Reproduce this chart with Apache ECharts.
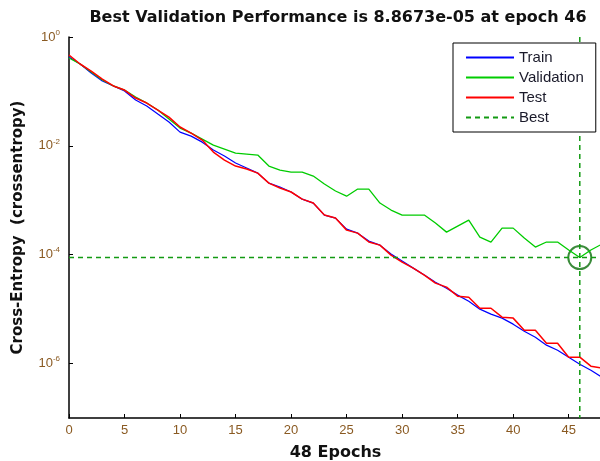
<!DOCTYPE html>
<html>
<head>
<meta charset="utf-8">
<script src="https://cdn.jsdelivr.net/npm/echarts@6/dist/echarts.min.js"></script>
<style>
html, body { margin: 0; padding: 0; background: #fff; }
#perfChart { width: 600px; height: 461px; }
</style>
</head>
<body>
<div id="perfChart"></div>
<script>
// cross-entropy per epoch (0..48)
var epochs = [];
for (var i = 0; i <= 48; i++) epochs.push(i);

var trainPerf = [0.429, 0.319, 0.218, 0.155, 0.126, 0.102, 0.0695, 0.0539, 0.0384, 0.0274,
    0.0179, 0.0151, 0.0117, 0.00837, 0.00649, 0.00483, 0.00391, 0.00316, 0.00207, 0.00175,
    0.00142, 0.00105, 0.000889, 0.000535, 0.000471, 0.000296, 0.000249, 0.000178, 0.000150, 0.000103,
    7.63e-5, 5.67e-5, 4.22e-5, 3.13e-5, 2.43e-5, 1.81e-5, 1.40e-5, 1.00e-5, 8.09e-6, 6.84e-6,
    5.30e-6, 3.94e-6, 3.05e-6, 2.18e-6, 1.76e-6, 1.31e-6, 9.75e-7, 7.56e-7, 5.62e-7];

var valPerf = [0.411, 0.319, 0.227, 0.162, 0.126, 0.106, 0.0789, 0.0612, 0.0455, 0.0311,
    0.0212, 0.0172, 0.0133, 0.0103, 0.00873, 0.00738, 0.00707, 0.00677, 0.00425, 0.00359,
    0.00330, 0.00330, 0.00279, 0.00199, 0.00148, 0.00119, 0.00161, 0.00161, 0.000889, 0.000661,
    0.000535, 0.000535, 0.000535, 0.000381, 0.000260, 0.000336, 0.000433, 0.000211, 0.000171, 0.000308,
    0.000308, 0.000202, 0.000138, 0.000171, 0.000171, 0.000122, 8.8673e-5, 0.000122, 0.000157];

var testPerf = [0.467, 0.319, 0.237, 0.169, 0.126, 0.106, 0.0756, 0.0612, 0.0455, 0.0338,
    0.0222, 0.0172, 0.0128, 0.00769, 0.00548, 0.00425, 0.00375, 0.00316, 0.00207, 0.00168,
    0.00142, 0.00105, 0.000889, 0.000535, 0.000471, 0.000283, 0.000249, 0.000171, 0.000150, 9.84e-5,
    7.31e-5, 5.67e-5, 4.22e-5, 3.01e-5, 2.54e-5, 1.73e-5, 1.66e-5, 1.04e-5, 1.04e-5, 7.13e-6,
    6.84e-6, 4.11e-6, 4.11e-6, 2.37e-6, 2.37e-6, 1.31e-6, 1.31e-6, 8.95e-7, 8.22e-7];

var bestEpoch = 46;
var bestPerf = 8.8673e-5;

var xTicks = [0, 5, 10, 15, 20, 25, 30, 35, 40, 45];
var yTicks = [1e-6, 1e-4, 1e-2, 1];
var yMin = 1e-7, yMax = 1, xMax = 48;

function pairs(xs, ys) {
    var out = [];
    for (var k = 0; k < ys.length; k++) out.push([xs[k], ys[k]]);
    return out;
}

var chart = echarts.init(document.getElementById('perfChart'));
var labelColor = '#8a5a22';
var font = 'Liberation Sans, Arial, sans-serif';
var boldFont = 'DejaVu Sans, sans-serif';

var option = {
    animation: false,
    title: {
        text: 'Best Validation Performance is 8.8673e-05 at epoch 46',
        left: 333,
        textAlign: 'center',
        top: 5,
        textStyle: { fontFamily: boldFont, fontWeight: 'bold', fontSize: 16, color: '#111' }
    },
    grid: { left: 69, top: 37, width: 533, bottom: 43, outerBoundsMode: 'none' },
    legend: {
        orient: 'vertical',
        left: 453,
        top: 43,
        padding: [7, 12, 7, 12],
        itemWidth: 48,
        itemHeight: 14,
        itemGap: 5,
        backgroundColor: '#fff',
        borderColor: '#000',
        borderWidth: 1,
        itemStyle: { opacity: 0 },
        data: ['Train', 'Validation', 'Test', 'Best'],
        textStyle: { fontFamily: font, fontSize: 15, color: '#1a1a2a' }
    },
    xAxis: {
        type: 'value',
        min: 0,
        max: xMax,
        name: '48 Epochs',
        nameLocation: 'middle',
        nameGap: 27,
        nameTextStyle: { fontFamily: boldFont, fontWeight: 'bold', fontSize: 16, color: '#111' },
        axisLine: { lineStyle: { color: '#000', width: 1.5 } },
        axisTick: { inside: true, length: 4, customValues: xTicks, lineStyle: { color: '#000' } },
        axisLabel: { customValues: xTicks, color: labelColor, fontFamily: font, fontSize: 13, margin: 6 },
        splitLine: { show: false }
    },
    yAxis: {
        type: 'log',
        logBase: 10,
        min: yMin,
        max: yMax,
        name: 'Cross-Entropy  (crossentropy)',
        nameLocation: 'middle',
        nameGap: 43,
        nameTextStyle: { fontFamily: boldFont, fontWeight: 'bold', fontSize: 15, color: '#111' },
        axisLine: { show: true, lineStyle: { color: '#000', width: 1.5 } },
        axisTick: { show: true, inside: true, length: 4, customValues: yTicks, lineStyle: { color: '#000' } },
        axisLabel: {
            customValues: yTicks,
            margin: 9,
            formatter: function (v) {
                var e = Math.round(Math.log10(v));
                return '{b|10}{s|' + e + '}';
            },
            rich: {
                b: { color: labelColor, fontFamily: font, fontSize: 13 },
                s: { color: labelColor, fontFamily: font, fontSize: 8, verticalAlign: 'bottom', padding: [0, 0, 9, 0] }
            }
        },
        splitLine: { show: false }
    },
    series: [
        {
            name: 'Train', type: 'line', symbol: 'none',
            data: pairs(epochs, trainPerf),
            lineStyle: { color: '#0000ff', width: 1.2 }, itemStyle: { color: '#0000ff' }
        },
        {
            name: 'Validation', type: 'line', symbol: 'none',
            data: pairs(epochs, valPerf),
            lineStyle: { color: '#00cc00', width: 1.3 }, itemStyle: { color: '#00cc00' }
        },
        {
            name: 'Test', type: 'line', symbol: 'none',
            data: pairs(epochs, testPerf),
            lineStyle: { color: '#ff0000', width: 1.5 }, itemStyle: { color: '#ff0000' }
        },
        {
            name: 'Best', type: 'line', symbol: 'none',
            data: [[0, bestPerf], [xMax, bestPerf]],
            lineStyle: { color: '#139a13', width: 1.5, type: [5, 4] }, itemStyle: { color: '#139a13' }
        },
        {
            name: 'bestEpoch', type: 'line', symbol: 'none',
            data: [[bestEpoch, yMax], [bestEpoch, yMin]],
            lineStyle: { color: '#139a13', width: 1.5, type: [5, 4] }
        },
        {
            name: 'bestPoint', type: 'scatter',
            symbol: 'circle', symbolSize: 23,
            data: [[bestEpoch, bestPerf]],
            itemStyle: { color: 'rgba(0,0,0,0)', borderColor: '#0a6e0a', borderWidth: 2 }
        }
    ]
};

chart.setOption(option);
</script>
</body>
</html>
